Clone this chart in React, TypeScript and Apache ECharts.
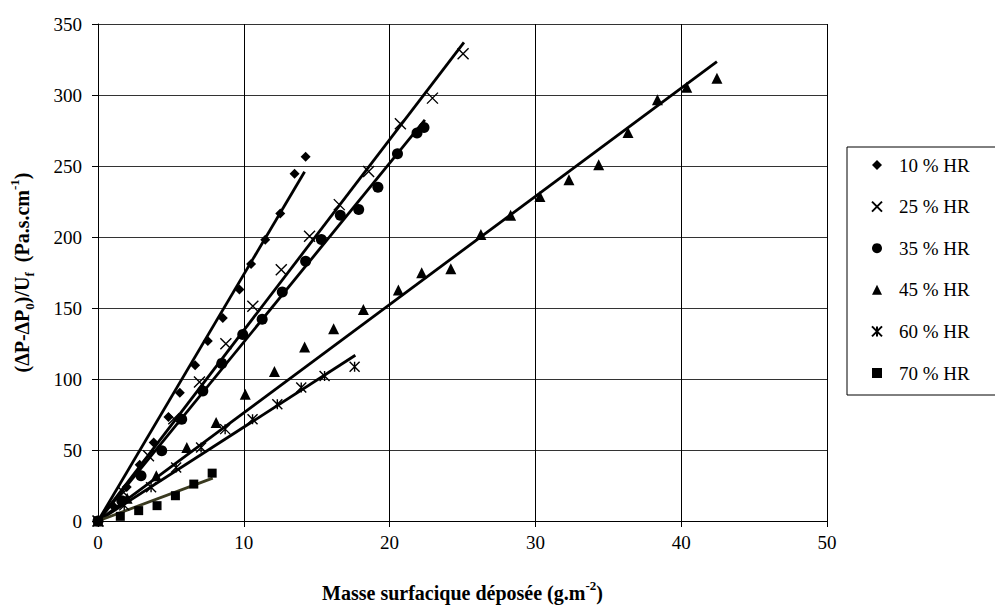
import React, { useEffect, useRef } from "react";
import * as echarts from "echarts";

const FONT = "Liberation Serif, Times New Roman, serif";

const xTicks = [0, 10, 20, 30, 40, 50];
const yTicks = [0, 50, 100, 150, 200, 250, 300, 350];

const seriesNames = ["10 % HR", "25 % HR", "35 % HR", "45 % HR", "60 % HR", "70 % HR"];

const hr10 = [
  [0, 0], [1.0, 11], [1.97, 24], [2.86, 39.6], [3.82, 55.3], [4.83, 73.3], [5.61, 90.4],
  [6.66, 109.6], [7.53, 126.7], [8.56, 143], [9.7, 163], [10.5, 181], [11.47, 198],
  [12.5, 216.5], [13.48, 244.6], [14.24, 256.5],
];
const hr25 = [
  [0, 0], [1.76, 20], [3.46, 45.9], [5.2, 72], [6.96, 97.9], [8.77, 124.9], [10.62, 151.3],
  [12.57, 177], [14.51, 200.5], [16.55, 222.8], [18.56, 246.2], [20.74, 279.7],
  [22.94, 297.8], [25.04, 329],
];
const hr35 = [
  [0, 0], [1.63, 14.3], [2.95, 31.8], [4.37, 49.4], [5.74, 71.7], [7.19, 91.6], [8.49, 111],
  [9.93, 131.4], [11.26, 142], [12.64, 161.2], [14.24, 183], [15.32, 198.2], [16.62, 215.3],
  [17.88, 219.3], [19.2, 235], [20.54, 258.6], [21.88, 273.2], [22.36, 277.1],
];
const hr45 = [
  [0, 0], [2.0, 16], [4.0, 31.8], [6.09, 51.8], [8.1, 69.4], [10.1, 89.3], [12.1, 105.3],
  [14.17, 122.5], [16.16, 135.4], [18.2, 149], [20.6, 162.6], [22.2, 174.8], [24.2, 177.6],
  [26.26, 201.7], [28.3, 215.3], [30.31, 228.6], [32.3, 240.4], [34.34, 250.9],
  [36.35, 273.6], [38.37, 296.6], [40.38, 305.5], [42.45, 311.8],
];
const hr60 = [
  [0, 0], [1.8, 11], [3.64, 23.7], [5.36, 37.7], [7.07, 51.8], [8.72, 64.7], [10.6, 71.7],
  [12.3, 82.2], [13.94, 94], [15.54, 102.1], [17.6, 108.7],
];
const hr70 = [
  [0, 0], [1.53, 3.3], [2.79, 7.3], [4.05, 10.8], [5.31, 17.8], [6.57, 26], [7.83, 33.7],
];

// linear trend lines (through origin): end points
const fit10 = [[0, 0], [14.17, 246]];
const fit25 = [[0, 0], [25.1, 337]];
const fit35 = [[0, 0], [22.42, 282.5]];
const fit45 = [[0, 0], [42.45, 323.5]];
const fit60 = [[0, 0], [17.65, 116.7]];
const fit70 = [[0, 0], [7.87, 30.2]];

const CROSS = "path://M0,0L10,10M10,0L0,10";
const STAR = "path://M0,0L10,10M10,0L0,10M5,0L5,10";

export default function App() {
  const ref = useRef<HTMLDivElement>(null);

  useEffect(() => {
    if (!ref.current) return;
    const chart = echarts.init(ref.current, undefined, { renderer: "svg" });

    const scatter = (name: string, data: number[][], symbol: string, size: number, stroke = false) => ({
      name,
      type: "scatter",
      data,
      symbol,
      symbolSize: size,
      z: 3,
      itemStyle: stroke
        ? { color: "rgba(0,0,0,0)", borderColor: "#000", borderWidth: 1.4, opacity: 1 }
        : { color: "#000", opacity: 1 },
    });
    const fit = (data: number[][], color = "#000") => ({
      type: "line",
      data,
      showSymbol: false,
      symbol: "none",
      z: 2,
      lineStyle: { color, width: 2.8 },
      silent: true,
    });

    chart.setOption({
      animation: false,
      backgroundColor: "#fff",
      grid: { left: 97, right: 168, top: 24, bottom: 86, containLabel: false },
      legend: {
        orient: "vertical",
        left: 847,
        top: 147,
        padding: [8, 80, 12, 24],
        itemGap: 21.6,
        itemWidth: 10,
        itemHeight: 10,
        borderColor: "#000",
        borderWidth: 1,
        data: seriesNames,
        textStyle: {
          fontFamily: FONT,
          fontSize: 19,
          color: "#000",
          lineHeight: 20,
          padding: [0, 0, 0, 12],
        },
      },
      xAxis: {
        type: "value",
        min: xTicks[0],
        max: xTicks[xTicks.length - 1],
        interval: 10,
        name: "{b|Masse surfacique déposée (g.m}{sup|-2}{b|)}",
        nameLocation: "middle",
        nameGap: 58,
        nameTextStyle: {
          rich: {
            b: { fontFamily: FONT, fontWeight: "bold", fontSize: 20, color: "#000", lineHeight: 28, verticalAlign: "middle" },
            sup: { fontFamily: FONT, fontWeight: "bold", fontSize: 13, color: "#000", lineHeight: 13, verticalAlign: "top" },
          },
        },
        axisLine: { show: true, onZero: false, lineStyle: { color: "#000", width: 1 } },
        axisTick: { show: true, length: 6, lineStyle: { color: "#000" } },
        axisLabel: { fontFamily: FONT, fontSize: 19, color: "#000", margin: 12 },
        splitLine: { show: true, lineStyle: { color: "#000", width: 1 } },
      },
      yAxis: {
        type: "value",
        min: yTicks[0],
        max: yTicks[yTicks.length - 1],
        interval: 50,
        name: "{b|(ΔP-ΔP}{sub|0}{b|)/U}{sub|f}{b|  (Pa.s.cm}{sup|-1}{b|)}",
        nameLocation: "middle",
        nameRotate: 90,
        nameGap: 62,
        nameTextStyle: {
          rich: {
            b: { fontFamily: FONT, fontWeight: "bold", fontSize: 20, color: "#000", lineHeight: 28, verticalAlign: "middle" },
            sub: { fontFamily: FONT, fontWeight: "bold", fontSize: 13, color: "#000", lineHeight: 13, verticalAlign: "bottom" },
            sup: { fontFamily: FONT, fontWeight: "bold", fontSize: 13, color: "#000", lineHeight: 13, verticalAlign: "top" },
          },
        },
        axisLine: { show: true, lineStyle: { color: "#000", width: 1 } },
        axisTick: { show: true, length: 6, lineStyle: { color: "#000" } },
        axisLabel: { fontFamily: FONT, fontSize: 19, color: "#000", margin: 16 },
        splitLine: { show: true, lineStyle: { color: "#333", width: 1 } },
      },
      series: [
        scatter(seriesNames[0], hr10, "diamond", 10),
        scatter(seriesNames[1], hr25, CROSS, 11, true),
        scatter(seriesNames[2], hr35, "circle", 11),
        scatter(seriesNames[3], hr45, "triangle", 11),
        scatter(seriesNames[4], hr60, STAR, 10, true),
        scatter(seriesNames[5], hr70, "rect", 9),
        fit(fit10),
        fit(fit25),
        fit(fit35),
        fit(fit45),
        fit(fit60),
        fit(fit70, "#3a3a20"),
      ],
    });

    return () => chart.dispose();
  }, []);

  return (
    <div
      ref={ref}
      style={{ position: "absolute", left: 0, top: 0, width: 995, height: 608, background: "#fff" }}
    />
  );
}
